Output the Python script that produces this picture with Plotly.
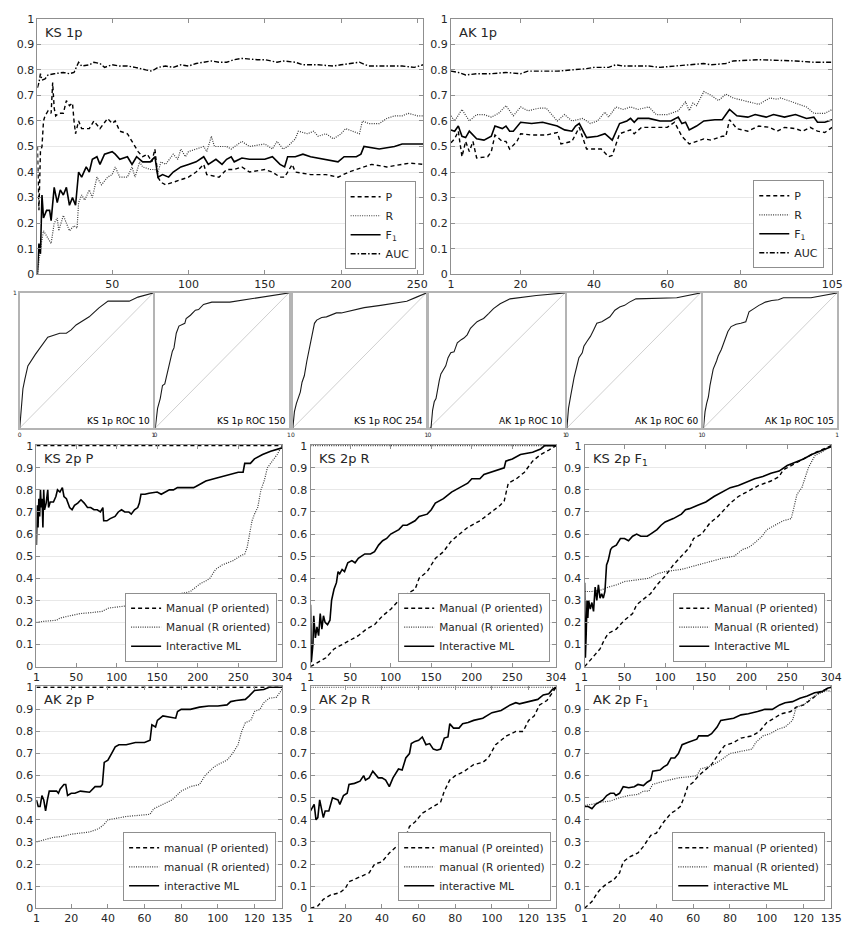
import plotly.graph_objects as go

# ---------------- DATA ----------------
KS1P_P = [(1,0.5),(2,0.25),(3,0.48),(4,0.5),(5,0.6),(6,0.62),(8,0.64),(10,0.63),(11,0.75),(12,0.65),(13,0.62),(15,0.63),(18,0.63),(20,0.68),(22,0.66),(24,0.67),(25,0.60),(26,0.55),(28,0.60),(30,0.57),(35,0.57),(38,0.60),(42,0.57),(47,0.61),(50,0.59),(52,0.60),(55,0.56),(60,0.55),(63,0.52),(67,0.48),(70,0.46),(73,0.47),(76,0.44),(78,0.49),(80,0.38),(82,0.36),(85,0.35),(90,0.36),(95,0.37),(100,0.38),(105,0.40),(110,0.43),(112,0.39),(120,0.38),(125,0.41),(130,0.41),(135,0.42),(140,0.40),(150,0.41),(155,0.40),(160,0.38),(163,0.38),(165,0.40),(168,0.43),(170,0.40),(180,0.39),(190,0.39),(198,0.38),(205,0.40),(215,0.42),(220,0.43),(230,0.42),(240,0.43),(245,0.435),(254,0.43)]
KS1P_R = [(1,0.0),(2,0.05),(3,0.10),(5,0.17),(7,0.15),(9,0.13),(10,0.12),(12,0.20),(14,0.22),(15,0.17),(18,0.23),(20,0.20),(22,0.17),(25,0.19),(27,0.18),(28,0.28),(30,0.31),(32,0.29),(35,0.33),(37,0.30),(40,0.38),(43,0.35),(47,0.38),(50,0.39),(52,0.42),(55,0.38),(60,0.38),(63,0.42),(65,0.38),(68,0.44),(70,0.42),(75,0.41),(78,0.41),(80,0.40),(82,0.44),(85,0.43),(90,0.47),(93,0.45),(95,0.49),(98,0.46),(100,0.48),(105,0.49),(110,0.50),(112,0.48),(115,0.54),(117,0.50),(120,0.50),(125,0.50),(128,0.49),(135,0.52),(140,0.50),(150,0.51),(155,0.49),(158,0.52),(162,0.49),(165,0.50),(170,0.53),(172,0.56),(178,0.55),(182,0.56),(185,0.54),(190,0.55),(195,0.53),(200,0.55),(203,0.57),(208,0.56),(212,0.55),(214,0.60),(218,0.59),(225,0.59),(230,0.61),(235,0.62),(240,0.62),(244,0.63),(250,0.62),(254,0.62)]
KS1P_F1 = [(1,0.0),(2,0.12),(3,0.08),(4,0.31),(5,0.22),(7,0.25),(9,0.25),(10,0.21),(12,0.34),(14,0.28),(16,0.33),(18,0.31),(20,0.34),(22,0.27),(24,0.30),(26,0.27),(28,0.40),(30,0.38),(33,0.42),(35,0.40),(37,0.45),(40,0.46),(42,0.43),(45,0.47),(50,0.48),(52,0.47),(55,0.45),(60,0.46),(63,0.43),(66,0.46),(70,0.44),(75,0.44),(78,0.46),(80,0.38),(83,0.39),(87,0.38),(90,0.40),(95,0.42),(100,0.43),(105,0.44),(110,0.46),(113,0.43),(118,0.45),(122,0.43),(125,0.45),(128,0.46),(130,0.44),(135,0.455),(140,0.45),(150,0.45),(155,0.46),(160,0.43),(163,0.42),(165,0.46),(170,0.46),(175,0.47),(180,0.46),(190,0.45),(198,0.44),(202,0.46),(210,0.46),(213,0.47),(215,0.50),(225,0.49),(235,0.50),(240,0.51),(245,0.51),(254,0.51)]
KS1P_AUC = [(1,0.73),(2,0.75),(3,0.785),(4,0.76),(6,0.765),(8,0.78),(12,0.785),(18,0.79),(22,0.785),(25,0.79),(28,0.83),(30,0.815),(35,0.82),(38,0.83),(42,0.825),(45,0.81),(50,0.82),(55,0.815),(60,0.815),(65,0.81),(72,0.80),(76,0.795),(80,0.81),(85,0.815),(90,0.81),(95,0.82),(100,0.815),(105,0.825),(110,0.83),(115,0.835),(120,0.83),(125,0.83),(130,0.84),(135,0.845),(145,0.84),(150,0.84),(158,0.83),(162,0.835),(170,0.83),(175,0.82),(185,0.82),(195,0.815),(200,0.82),(212,0.83),(218,0.815),(230,0.815),(240,0.815),(248,0.81),(254,0.82)]

AK1P_P = [(1,0.515),(2,0.53),(3,0.56),(4,0.46),(5,0.52),(6,0.48),(7,0.52),(8,0.455),(11,0.46),(12,0.48),(13,0.545),(15,0.52),(16,0.52),(17,0.49),(19,0.52),(20,0.55),(23,0.545),(27,0.545),(30,0.555),(31,0.51),(34,0.52),(36,0.575),(38,0.49),(42,0.49),(44,0.46),(45,0.465),(47,0.55),(50,0.565),(51,0.55),(53,0.575),(57,0.575),(60,0.575),(62,0.595),(64,0.54),(66,0.51),(68,0.52),(70,0.53),(72,0.525),(75,0.54),(76,0.54),(77,0.605),(79,0.57),(82,0.56),(85,0.58),(88,0.575),(90,0.56),(92,0.575),(95,0.57),(97,0.56),(99,0.575),(101,0.56),(103,0.555),(105,0.575)]
AK1P_R = [(1,0.62),(2,0.60),(4,0.645),(6,0.60),(8,0.625),(10,0.625),(12,0.615),(14,0.63),(16,0.66),(18,0.62),(20,0.655),(22,0.64),(25,0.65),(27,0.65),(30,0.60),(32,0.625),(34,0.60),(37,0.61),(39,0.59),(41,0.60),(43,0.635),(44,0.615),(46,0.655),(48,0.645),(50,0.655),(52,0.645),(55,0.655),(57,0.625),(60,0.625),(63,0.64),(65,0.675),(66,0.64),(67,0.67),(68,0.66),(70,0.715),(72,0.70),(74,0.68),(76,0.705),(78,0.69),(82,0.675),(85,0.665),(88,0.69),(90,0.685),(91,0.69),(95,0.67),(98,0.655),(100,0.63),(103,0.63),(105,0.645)]
AK1P_F1 = [(1,0.565),(2,0.56),(3,0.58),(4,0.54),(5,0.535),(6,0.56),(8,0.53),(10,0.525),(12,0.54),(13,0.58),(15,0.57),(16,0.58),(17,0.56),(18,0.56),(20,0.595),(23,0.59),(26,0.595),(30,0.58),(32,0.565),(34,0.56),(35,0.58),(36,0.59),(38,0.535),(41,0.54),(43,0.55),(45,0.525),(47,0.59),(49,0.60),(50,0.61),(51,0.595),(52,0.61),(55,0.61),(58,0.60),(61,0.60),(63,0.615),(64,0.59),(65,0.595),(66,0.565),(68,0.58),(70,0.60),(73,0.605),(75,0.605),(77,0.645),(79,0.62),(82,0.615),(84,0.625),(87,0.615),(89,0.625),(92,0.615),(95,0.625),(98,0.61),(100,0.615),(101,0.595),(103,0.595),(105,0.605)]
AK1P_AUC = [(1,0.795),(3,0.79),(5,0.78),(8,0.785),(12,0.785),(16,0.79),(20,0.785),(22,0.795),(30,0.795),(35,0.80),(38,0.805),(40,0.81),(44,0.81),(46,0.82),(48,0.815),(55,0.815),(58,0.81),(62,0.815),(67,0.82),(70,0.825),(72,0.82),(76,0.825),(78,0.835),(85,0.84),(95,0.835),(100,0.83),(105,0.83)]

ROC_LABELS = ["KS 1p ROC 10", "KS 1p ROC 150", "KS 1p ROC 254", "AK 1p ROC 10", "AK 1p ROC 60", "AK 1p ROC 105"]
ROC_CURVES = [
    [(0,0),(0.024,0.291),(0.039,0.363),(0.061,0.460),(0.117,0.545),(0.154,0.593),(0.210,0.673),(0.300,0.702),(0.349,0.702),(0.385,0.726),(0.422,0.763),(0.520,0.823),(0.593,0.889),(0.661,0.939),(0.820,0.939),(0.885,0.969),(1,1)],
    [(0,0),(0.017,0.145),(0.037,0.218),(0.054,0.315),(0.071,0.327),(0.091,0.412),(0.115,0.496),(0.128,0.569),(0.140,0.593),(0.157,0.702),(0.177,0.755),(0.201,0.768),(0.221,0.775),(0.231,0.811),(0.263,0.835),(0.300,0.872),(0.324,0.877),(0.361,0.915),(0.423,0.932),(0.558,0.932),(1,1)],
    [(0,0),(0.012,0.121),(0.027,0.182),(0.056,0.266),(0.069,0.339),(0.086,0.387),(0.105,0.496),(0.118,0.557),(0.135,0.654),(0.147,0.702),(0.162,0.775),(0.179,0.799),(0.216,0.818),(0.252,0.823),(0.289,0.840),(0.326,0.852),(0.363,0.852),(0.534,0.891),(0.657,0.908),(0.853,0.939),(0.926,0.969),(1,1)],
    [(0,0),(0.012,0.0),(0.024,0.133),(0.036,0.194),(0.049,0.218),(0.061,0.291),(0.073,0.351),(0.085,0.400),(0.104,0.436),(0.121,0.460),(0.138,0.521),(0.158,0.557),(0.182,0.564),(0.194,0.605),(0.206,0.630),(0.235,0.654),(0.255,0.666),(0.279,0.690),(0.303,0.738),(0.328,0.763),(0.352,0.787),(0.376,0.799),(0.400,0.811),(0.437,0.847),(0.473,0.884),(0.522,0.920),(0.595,0.956),(0.789,0.981),(1,1)],
    [(0,0),(0.012,0.145),(0.029,0.242),(0.041,0.315),(0.054,0.375),(0.078,0.472),(0.090,0.521),(0.115,0.557),(0.127,0.605),(0.151,0.642),(0.176,0.678),(0.200,0.726),(0.224,0.775),(0.261,0.787),(0.285,0.799),(0.322,0.823),(0.359,0.872),(0.395,0.896),(0.432,0.908),(0.468,0.932),(0.517,0.956),(0.822,0.964),(1,1)],
    [(0,0),(0.012,0.121),(0.024,0.182),(0.037,0.230),(0.049,0.315),(0.061,0.387),(0.073,0.436),(0.098,0.496),(0.110,0.533),(0.134,0.581),(0.159,0.642),(0.183,0.714),(0.207,0.751),(0.244,0.768),(0.280,0.775),(0.317,0.787),(0.329,0.823),(0.341,0.860),(0.378,0.884),(0.415,0.908),(0.463,0.932),(0.512,0.944),(0.561,0.949),(0.598,0.964),(0.805,0.964),(0.902,0.981),(1,1)],
]
ROC_DIAG = [(0,0),(1,1)]

KS2P_P_MP = [(1,1.0),(304,1.0)]
KS2P_P_MR = [(1,0.20),(10,0.205),(26,0.21),(30,0.22),(42,0.23),(55,0.24),(70,0.245),(82,0.25),(90,0.265),(100,0.27),(123,0.28),(130,0.29),(139,0.296),(150,0.305),(163,0.31),(170,0.325),(185,0.335),(191,0.34),(196,0.355),(203,0.375),(211,0.39),(215,0.40),(222,0.44),(230,0.46),(244,0.48),(252,0.50),(258,0.51),(261,0.54),(264,0.60),(267,0.66),(270,0.69),(274,0.72),(278,0.80),(282,0.84),(286,0.90),(292,0.93),(298,0.96),(304,1.0)]
KS2P_P_ML = [(1,0.55),(2,0.73),(3,0.63),(4,0.76),(5,0.68),(6,0.80),(7,0.72),(8,0.76),(9,0.63),(10,0.80),(11,0.71),(13,0.74),(15,0.80),(16,0.72),(18,0.745),(22,0.745),(25,0.77),(27,0.80),(30,0.79),(33,0.81),(35,0.77),(38,0.76),(42,0.72),(45,0.71),(48,0.73),(52,0.74),(56,0.755),(60,0.74),(64,0.72),(68,0.72),(72,0.71),(76,0.71),(80,0.70),(83,0.72),(84,0.66),(88,0.66),(92,0.67),(98,0.68),(102,0.70),(106,0.71),(110,0.70),(115,0.70),(118,0.69),(122,0.71),(126,0.72),(128,0.74),(130,0.78),(135,0.78),(140,0.785),(150,0.79),(155,0.78),(160,0.79),(165,0.80),(170,0.80),(175,0.81),(185,0.81),(195,0.81),(200,0.82),(205,0.83),(210,0.84),(220,0.85),(230,0.86),(240,0.87),(250,0.88),(256,0.88),(258,0.92),(265,0.92),(270,0.94),(280,0.96),(290,0.975),(304,0.99)]

KS2P_R_MP = [(1,0.0),(10,0.02),(20,0.04),(25,0.06),(30,0.08),(40,0.10),(50,0.12),(60,0.14),(70,0.17),(80,0.19),(90,0.23),(100,0.26),(110,0.30),(120,0.33),(130,0.35),(135,0.40),(145,0.43),(150,0.46),(155,0.49),(165,0.52),(175,0.57),(185,0.60),(195,0.63),(210,0.66),(225,0.70),(235,0.73),(240,0.75),(245,0.83),(255,0.85),(265,0.88),(275,0.93),(285,0.96),(295,0.98),(304,1.0)]
KS2P_R_MR = [(1,1.0),(304,1.0)]
KS2P_R_ML = [(1,0.28),(2,0.02),(4,0.10),(5,0.23),(7,0.13),(9,0.18),(11,0.14),(13,0.24),(15,0.17),(17,0.23),(19,0.20),(22,0.19),(25,0.21),(27,0.30),(30,0.35),(33,0.38),(35,0.43),(37,0.42),(40,0.44),(43,0.43),(47,0.47),(52,0.48),(56,0.47),(60,0.49),(64,0.50),(68,0.51),(75,0.51),(80,0.52),(85,0.55),(90,0.57),(95,0.58),(100,0.60),(110,0.62),(115,0.64),(120,0.64),(125,0.65),(130,0.66),(135,0.68),(145,0.69),(150,0.71),(155,0.74),(165,0.76),(175,0.79),(185,0.81),(195,0.83),(200,0.85),(210,0.85),(215,0.87),(230,0.89),(240,0.90),(242,0.93),(250,0.94),(260,0.96),(275,0.97),(285,0.985),(290,1.0),(304,1.0)]

KS2P_F_MP = [(1,0.0),(10,0.04),(20,0.08),(25,0.12),(30,0.15),(40,0.17),(50,0.21),(60,0.24),(65,0.28),(75,0.31),(82,0.33),(90,0.37),(100,0.41),(110,0.46),(120,0.50),(130,0.54),(135,0.58),(145,0.60),(155,0.65),(165,0.68),(170,0.70),(180,0.74),(190,0.77),(200,0.79),(215,0.82),(230,0.84),(240,0.86),(245,0.89),(255,0.91),(270,0.94),(285,0.97),(304,1.0)]
KS2P_F_MR = [(1,0.34),(10,0.34),(20,0.345),(30,0.36),(40,0.37),(50,0.385),(60,0.39),(70,0.395),(80,0.40),(90,0.42),(100,0.43),(120,0.44),(130,0.45),(150,0.47),(160,0.48),(170,0.49),(185,0.50),(195,0.53),(203,0.54),(210,0.56),(219,0.59),(225,0.62),(235,0.64),(245,0.66),(255,0.67),(258,0.72),(262,0.78),(268,0.81),(272,0.86),(276,0.90),(284,0.955),(292,0.97),(304,1.0)]
KS2P_F_ML = [(1,0.38),(2,0.04),(3,0.15),(4,0.30),(5,0.22),(6,0.30),(8,0.26),(10,0.29),(12,0.25),(14,0.36),(16,0.30),(18,0.37),(20,0.31),(22,0.33),(24,0.31),(26,0.34),(28,0.46),(30,0.48),(33,0.53),(35,0.54),(40,0.55),(45,0.58),(50,0.58),(55,0.57),(60,0.59),(65,0.60),(70,0.59),(78,0.59),(82,0.60),(90,0.62),(95,0.64),(100,0.655),(110,0.67),(120,0.69),(125,0.71),(130,0.715),(140,0.73),(150,0.745),(160,0.77),(170,0.79),(180,0.81),(190,0.82),(200,0.835),(210,0.85),(220,0.86),(230,0.875),(240,0.885),(250,0.91),(260,0.925),(270,0.94),(280,0.96),(290,0.975),(304,0.995)]

AK2P_P_MP = [(1,1.0),(135,1.0)]
AK2P_P_MR = [(1,0.30),(5,0.31),(10,0.32),(15,0.325),(20,0.335),(30,0.345),(35,0.36),(38,0.38),(40,0.40),(50,0.415),(55,0.42),(63,0.425),(65,0.45),(70,0.47),(75,0.49),(80,0.53),(85,0.55),(90,0.56),(93,0.60),(98,0.64),(100,0.65),(105,0.67),(108,0.70),(111,0.74),(113,0.80),(115,0.84),(118,0.85),(120,0.89),(123,0.90),(125,0.93),(128,0.95),(132,0.955),(135,0.99)]
AK2P_P_ML = [(1,0.49),(2,0.46),(3,0.46),(4,0.51),(5,0.49),(6,0.44),(7,0.49),(8,0.53),(10,0.53),(12,0.53),(13,0.52),(14,0.54),(16,0.56),(17,0.56),(18,0.51),(20,0.52),(22,0.52),(25,0.53),(30,0.525),(33,0.55),(36,0.55),(37,0.56),(38,0.66),(40,0.67),(42,0.70),(44,0.73),(46,0.74),(50,0.74),(55,0.75),(60,0.75),(63,0.76),(64,0.83),(66,0.82),(67,0.85),(70,0.87),(75,0.865),(77,0.86),(78,0.89),(80,0.90),(85,0.90),(90,0.91),(95,0.915),(100,0.915),(105,0.92),(107,0.935),(110,0.94),(115,0.945),(117,0.96),(120,0.985),(125,0.99),(128,1.0),(135,1.0)]

AK2P_R_MP = [(1,0.0),(5,0.01),(8,0.04),(12,0.06),(17,0.07),(20,0.09),(22,0.12),(25,0.13),(28,0.14),(33,0.16),(36,0.20),(40,0.21),(44,0.25),(48,0.28),(52,0.30),(55,0.37),(58,0.39),(62,0.43),(66,0.45),(70,0.47),(72,0.48),(74,0.53),(77,0.58),(80,0.60),(85,0.62),(90,0.65),(95,0.66),(98,0.68),(102,0.74),(108,0.78),(113,0.80),(117,0.80),(120,0.85),(123,0.87),(126,0.92),(130,0.94),(135,1.0)]
AK2P_R_MR = [(1,1.0),(135,1.0)]
AK2P_R_ML = [(1,0.44),(3,0.47),(4,0.40),(5,0.41),(6,0.49),(8,0.41),(9,0.44),(11,0.44),(13,0.50),(16,0.49),(17,0.47),(19,0.51),(21,0.52),(22,0.56),(25,0.565),(28,0.575),(30,0.60),(31,0.58),(33,0.59),(35,0.62),(38,0.59),(40,0.59),(42,0.58),(44,0.55),(46,0.59),(49,0.63),(51,0.625),(53,0.68),(55,0.70),(56,0.745),(58,0.755),(60,0.76),(62,0.775),(64,0.74),(66,0.745),(68,0.72),(70,0.715),(72,0.72),(74,0.77),(76,0.775),(77,0.835),(79,0.815),(82,0.815),(84,0.835),(87,0.84),(90,0.85),(95,0.86),(100,0.885),(105,0.895),(110,0.92),(113,0.93),(115,0.925),(120,0.935),(125,0.945),(128,0.965),(131,0.97),(133,0.99),(135,1.0)]

AK2P_F_MP = [(1,0.0),(5,0.03),(8,0.07),(10,0.09),(13,0.11),(17,0.13),(20,0.16),(22,0.21),(25,0.23),(30,0.25),(33,0.28),(37,0.33),(40,0.34),(44,0.39),(48,0.43),(50,0.44),(53,0.46),(55,0.50),(57,0.55),(60,0.57),(63,0.60),(67,0.63),(70,0.65),(74,0.70),(77,0.735),(82,0.75),(86,0.77),(92,0.78),(96,0.80),(100,0.84),(104,0.86),(108,0.88),(113,0.89),(116,0.91),(120,0.92),(125,0.95),(129,0.98),(135,1.0)]
AK2P_F_MR = [(1,0.465),(5,0.47),(10,0.48),(15,0.485),(20,0.50),(25,0.51),(30,0.515),(33,0.53),(36,0.53),(38,0.56),(42,0.57),(48,0.58),(52,0.59),(58,0.595),(62,0.60),(64,0.63),(70,0.645),(75,0.67),(80,0.70),(86,0.71),(92,0.72),(94,0.75),(98,0.78),(102,0.79),(106,0.81),(110,0.82),(114,0.85),(116,0.91),(120,0.92),(124,0.95),(128,0.97),(133,0.985),(135,0.98)]
AK2P_F_ML = [(1,0.46),(3,0.46),(5,0.45),(7,0.47),(9,0.48),(11,0.49),(13,0.51),(15,0.52),(17,0.52),(18,0.51),(20,0.52),(22,0.55),(25,0.545),(28,0.55),(30,0.56),(33,0.555),(35,0.57),(37,0.58),(38,0.62),(42,0.625),(44,0.64),(46,0.65),(48,0.68),(50,0.68),(52,0.70),(54,0.74),(57,0.75),(60,0.76),(62,0.765),(63,0.78),(66,0.78),(68,0.78),(70,0.79),(73,0.82),(75,0.85),(78,0.855),(82,0.86),(86,0.875),(90,0.88),(95,0.89),(99,0.90),(103,0.90),(107,0.92),(110,0.93),(114,0.935),(118,0.95),(122,0.96),(126,0.975),(130,0.98),(133,0.995),(135,1.0)]

Y_TICKS = [0, 0.1, 0.2, 0.3, 0.4, 0.5, 0.6, 0.7, 0.8, 0.9, 1]
Y_TICKTEXT = ["0", "0.1", "0.2", "0.3", "0.4", "0.5", "0.6", "0.7", "0.8", "0.9", "1"]
KS1P_XTICKS = [50, 100, 150, 200, 250]
AK1P_XTICKS = [1, 20, 40, 60, 80, 105]
KS2P_XTICKS = [1, 50, 100, 150, 200, 250, 304]
AK2P_XTICKS = [1, 20, 40, 60, 80, 100, 120, 135]

LEG_1P = ["P", "R", "F<sub>1</sub>", "AUC"]
LEG_KS2P = ["Manual (P oriented)", "Manual (R oriented)", "Interactive ML"]
LEG_AK2P = ["manual (P oriented)", "manual (R oriented)", "interactive ML"]
LEG_AK2P_R = ["manual (P oreinted)", "manual (R oriented)", "interactive ML"]

# ---------------- STYLE ----------------
W, H = 851, 930
FONT = "DejaVu Sans"
TXT = "#262626"
AXC = "#8f8f8f"
GRID = "#e8e8e8"

def dx(a, b):
    return [a / W, b / W]

def dy(top, bottom):
    return [1 - bottom / H, 1 - top / H]

STY_P = dict(color="black", width=1.4, dash="4px,3px")
STY_R = dict(color="#3a3a3a", width=1.2, dash="1px,1.3px")
STY_F = dict(color="black", width=1.6)
STY_AUC = dict(color="black", width=1.4, dash="5px,2px,1.5px,2px")

fig = go.Figure()
layout = dict(width=W, height=H, margin=dict(l=0, r=0, t=0, b=0),
              paper_bgcolor="white", plot_bgcolor="white",
              font=dict(family=FONT, color=TXT, size=11), showlegend=True)
annotations = []

def xy(pts):
    return [p[0] for p in pts], [p[1] for p in pts]

def axis_main(n, xdom, ydom, xr, yr, xticks):
    sx = "" if n == 1 else str(n)
    layout["xaxis" + sx] = dict(domain=xdom, range=xr, anchor="y" + sx, tickvals=xticks,
                                ticktext=[str(t) for t in xticks], ticks="inside", ticklen=4,
                                tickcolor=AXC, showline=True, linecolor=AXC, linewidth=1,
                                mirror="ticks", showgrid=False, zeroline=False,
                                ticklabeloverflow="allow",
                                tickfont=dict(size=11, color=TXT, family=FONT))
    layout["yaxis" + sx] = dict(domain=ydom, range=yr, anchor="x" + sx, tickvals=Y_TICKS,
                                ticktext=Y_TICKTEXT, ticks="inside", ticklen=4,
                                tickcolor=AXC, showline=True, linecolor=AXC, linewidth=1,
                                mirror="ticks", showgrid=True, gridcolor=GRID, gridwidth=1,
                                zeroline=False, ticklabeloverflow="allow",
                                tickfont=dict(size=11, color=TXT, family=FONT))

def title(n, text):
    sx = "" if n == 1 else str(n)
    annotations.append(dict(text=text, xref="x" + sx + " domain", yref="y" + sx + " domain",
                            x=0, y=1, xanchor="left", yanchor="top", xshift=6, yshift=-4,
                            showarrow=False, font=dict(size=13, color=TXT, family=FONT)))

def legend_box(name, xr, yb, size):
    layout[name] = dict(x=xr, y=yb, xanchor="right", yanchor="bottom", bgcolor="white",
                        bordercolor=AXC, borderwidth=1, tracegroupgap=0,
                        font=dict(size=size, color=TXT, family=FONT))

def add(n, pts, sty, name, leg, show=True):
    sx = "" if n == 1 else str(n)
    x, y = xy(pts)
    fig.add_trace(go.Scatter(x=x, y=y, mode="lines", line=sty, name=name,
                             xaxis="x" + sx, yaxis="y" + sx, legend=leg,
                             showlegend=show, hoverinfo="skip"))

# ---- Top row ----
axis_main(1, dx(34, 427), dy(13, 272), [1, 254], [0, 1], KS1P_XTICKS)
axis_main(2, dx(455, 843), dy(13, 272), [1, 105], [0, 1], AK1P_XTICKS)
title(1, "KS 1p")
title(2, "AK 1p")
legend_box("legend", 419 / W, 1 - 267 / H, 11)
legend_box("legend2", 835 / W, 1 - 266 / H, 11)
for pts, sty, nm in zip([KS1P_P, KS1P_R, KS1P_F1, KS1P_AUC], [STY_P, STY_R, STY_F, STY_AUC], LEG_1P):
    add(1, pts, sty, nm, "legend")
for pts, sty, nm in zip([AK1P_P, AK1P_R, AK1P_F1, AK1P_AUC], [STY_P, STY_R, STY_F, STY_AUC], LEG_1P):
    add(2, pts, sty, nm, "legend2")

# ---- ROC row ----
ROC_X = [(16, 152), (154, 290), (294, 430), (433, 571), (573, 709), (712, 848)]
for i, (a, b) in enumerate(ROC_X):
    n = 3 + i
    sx = str(n)
    layout["xaxis" + sx] = dict(domain=dx(a, b), range=[0, 1], anchor="y" + sx,
                                tickvals=[0, 1], ticktext=["0", "1"], ticks="",
                                showline=True, linecolor="#b4b4b4", linewidth=1.5, mirror=True,
                                showgrid=False, zeroline=False, ticklabeloverflow="allow",
                                tickfont=dict(size=6, color=TXT, family=FONT))
    layout["yaxis" + sx] = dict(domain=dy(291, 428), range=[0, 1], anchor="x" + sx,
                                tickvals=[1], ticktext=["1"], ticks="",
                                showticklabels=(i == 0),
                                showline=True, linecolor="#b4b4b4", linewidth=1.5, mirror=True,
                                showgrid=False, zeroline=False,
                                tickfont=dict(size=6, color=TXT, family=FONT))
    add(n, ROC_DIAG, dict(color="#cfcfcf", width=1), "diag", "legend", show=False)
    add(n, ROC_CURVES[i], dict(color="#1a1a1a", width=1.1), "roc", "legend", show=False)
    annotations.append(dict(text=ROC_LABELS[i], xref="x" + sx + " domain", yref="y" + sx + " domain",
                            x=1, y=0, xanchor="right", yanchor="bottom", xshift=-1, yshift=0,
                            showarrow=False, font=dict(size=9, color="black", family=FONT)))

# ---- Middle row (KS 2p) and bottom row (AK 2p) ----
MID_Y = dy(445, 670)
BOT_Y = dy(690, 915)
COLS = [(33, 283), (312, 562), (591, 842)]
mid = [
    ("KS 2p P", [KS2P_P_MP, KS2P_P_MR, KS2P_P_ML], LEG_KS2P, 278),
    ("KS 2p R", [KS2P_R_MP, KS2P_R_MR, KS2P_R_ML], LEG_KS2P, 556),
    ("KS 2p F<sub>1</sub>", [KS2P_F_MP, KS2P_F_MR, KS2P_F_ML], LEG_KS2P, 836),
]
for j, (ttl, series, names, lr) in enumerate(mid):
    n = 9 + j
    leg = "legend" + str(3 + j)
    axis_main(n, dx(*COLS[j]), MID_Y, [1, 304], [0, 1.004], KS2P_XTICKS)
    title(n, ttl)
    legend_box(leg, lr / W, 1 - 665 / H, 10.5)
    for pts, sty, nm in zip(series, [STY_P, STY_R, STY_F], names):
        add(n, pts, sty, nm, leg)

bot = [
    ("AK 2p P", [AK2P_P_MP, AK2P_P_MR, AK2P_P_ML], LEG_AK2P, 277),
    ("AK 2p R", [AK2P_R_MP, AK2P_R_MR, AK2P_R_ML], LEG_AK2P_R, 557),
    ("AK 2p F<sub>1</sub>", [AK2P_F_MP, AK2P_F_MR, AK2P_F_ML], LEG_AK2P, 836),
]
for j, (ttl, series, names, lr) in enumerate(bot):
    n = 12 + j
    leg = "legend" + str(6 + j)
    axis_main(n, dx(*COLS[j]), BOT_Y, [1, 135], [0, 1.004], AK2P_XTICKS)
    title(n, ttl)
    legend_box(leg, lr / W, 1 - 908 / H, 10.5)
    for pts, sty, nm in zip(series, [STY_P, STY_R, STY_F], names):
        add(n, pts, sty, nm, leg)

layout["annotations"] = annotations
fig.update_layout(**layout)
fig.write_html("out.html",
               config={"displayModeBar": False},
               post_script="document.body.style.margin='0px';document.body.style.overflow='hidden';")
